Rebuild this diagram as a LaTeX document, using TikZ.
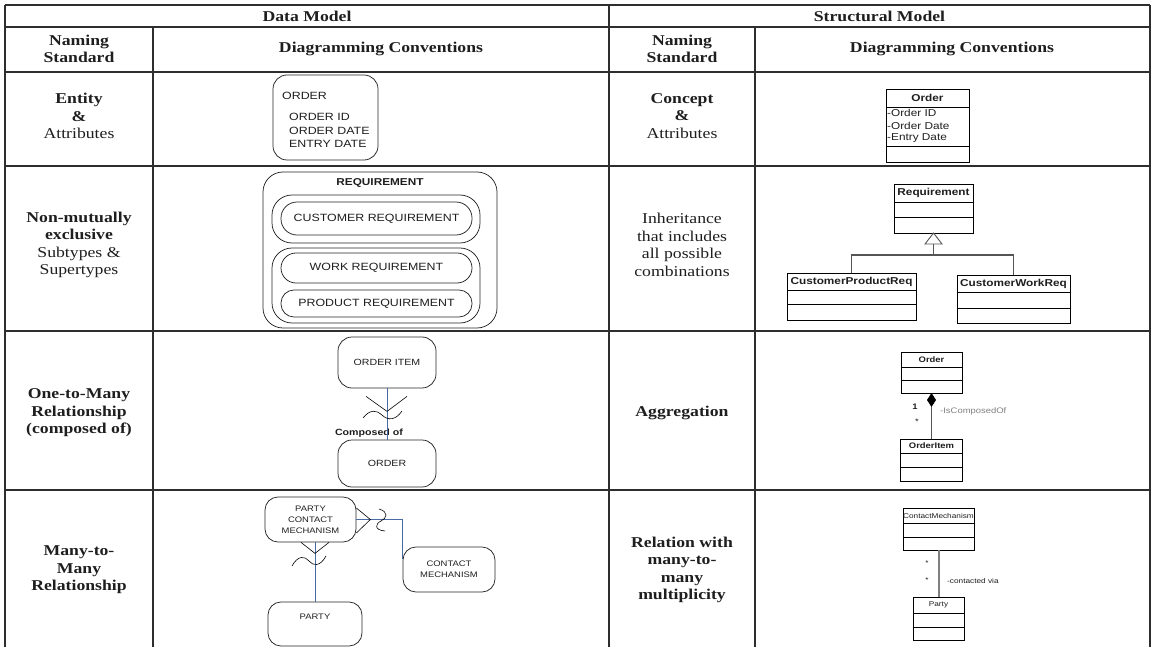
\documentclass[tikz,border=0pt]{standalone}
\usepackage{fontspec}
\setmainfont{Liberation Serif}[FakeStretch=1.18]
\newfontfamily\dsans{Liberation Sans}[FakeStretch=1.18]
\usetikzlibrary{calc}
\definecolor{tabline}{HTML}{2E2E2E}
\definecolor{erblue}{HTML}{4A6AA5}
\definecolor{umlgray}{HTML}{555555}
\definecolor{txt}{HTML}{1E1E1E}
\begin{document}
\begin{tikzpicture}[x=1pt,y=-1pt,
  tabrule/.style={draw=tabline, line width=2.6pt},
  tabtext/.style={align=center, text=txt, inner sep=0pt, font=\fontsize{15}{17.5}\selectfont},
  erbox/.style={draw=black!85, line width=0.75pt, rounded corners=14pt, inner sep=0pt, align=center, text=txt},
  ertext/.style={font=\dsans\fontsize{10.5}{13.5}\selectfont, text=txt, inner sep=0pt},
  ersmall/.style={font=\dsans\fontsize{8}{11}\selectfont, text=txt, inner sep=0pt, align=center},
  crow/.style={draw=black, line width=0.6pt},
  erline/.style={draw=erblue, line width=0.8pt},
  umlbox/.style={draw=black, line width=0.8pt, inner sep=0pt, outer sep=0pt, text=txt},
  umlbold/.style={font=\dsans\bfseries\fontsize{10}{12}\selectfont},
  umltext/.style={font=\dsans\fontsize{10}{12}\selectfont, text=txt, inner sep=0pt},
  umlline/.style={draw=umlgray, line width=1.2pt},
]
\useasboundingbox (0,0) rectangle (1154,647);
% ---------------- table ----------------
\draw[tabrule] (5,5) -- (1150,5);
\draw[tabrule] (5,27) -- (1150,27);
\draw[tabrule] (5,72) -- (1150,72);
\draw[tabrule] (5,166) -- (1150,166);
\draw[tabrule] (5,331) -- (1150,331);
\draw[tabrule] (5,490) -- (1150,490);
\draw[tabrule] (5,5) -- (5,647);
\draw[tabrule] (609,5) -- (609,647);
\draw[tabrule] (1150,5) -- (1150,647);
\draw[tabrule] (153,27) -- (153,647);
\draw[tabrule] (755,27) -- (755,647);

\node[tabtext] (hdm) at (307,16) {\textbf{Data Model}};
\node[tabtext] (hsm) at (879.5,16) {\textbf{Structural Model}};
\node[tabtext] (hn1) at (79,49) {\textbf{Naming}\\\textbf{Standard}};
\node[tabtext] (hd1) at (381,49) {\textbf{Diagramming Conventions}};
\node[tabtext] (hn2) at (682,49) {\textbf{Naming}\\\textbf{Standard}};
\node[tabtext] (hd2) at (952,49) {\textbf{Diagramming Conventions}};

\node[tabtext] (n1) at (79,116) {\textbf{Entity}\\\textbf{\&}\\Attributes};
\node[tabtext] (s1) at (682,116) {\textbf{Concept}\\\textbf{\&}\\Attributes};
\node[tabtext] (n2) at (79,245) {\textbf{Non-mutually}\\\textbf{exclusive}\\Subtypes \&\\Supertypes};
\node[tabtext] (s2) at (682,245) {Inheritance\\that includes\\all possible\\combinations};
\node[tabtext] (n3) at (79,413) {\textbf{One-to-Many}\\\textbf{Relationship}\\\textbf{(composed of)}};
\node[tabtext] (s3) at (682,413) {\textbf{Aggregation}};
\node[tabtext] (n4) at (79,570) {\textbf{Many-to-}\\\textbf{Many}\\\textbf{Relationship}};
\node[tabtext] (s4) at (682,570) {\textbf{Relation with}\\\textbf{many-to-}\\\textbf{many}\\\textbf{multiplicity}};

% ---------------- row 1 ----------------
\node[erbox, minimum width=105pt, minimum height=85pt] (ent) at (325.5,117.5) {};
\node[ertext, anchor=west] (entn) at (282,96) {ORDER};
\node[ertext, anchor=west] (enta) at (289,117) {ORDER ID};
\node[ertext, anchor=west] (entb) at (289,131) {ORDER DATE};
\node[ertext, anchor=west] (entc) at (289,144) {ENTRY DATE};

\node[umlbox, umlbold, minimum width=83pt, minimum height=18pt] (c1) at (927.5,98) {Order};
\node[umlbox, minimum width=83pt, minimum height=39pt, anchor=north] (c1a) at (c1.south) {};
\node[umlbox, minimum width=83pt, minimum height=16pt, anchor=north] (c1b) at (c1a.south) {};
\node[umltext, anchor=west] (c1t1) at (887,113) {-Order ID};
\node[umltext, anchor=west] (c1t2) at (887,125.5) {-Order Date};
\node[umltext, anchor=west] (c1t3) at (887,138) {-Entry Date};

% ---------------- row 2 ----------------
\node[erbox, rounded corners=20pt, minimum width=234pt, minimum height=156pt] (req) at (380,250) {};
\node[ertext, font=\dsans\bfseries\fontsize{10}{12}\selectfont] (reqn) at (380,183) {REQUIREMENT};
\node[erbox, rounded corners=20pt, minimum width=208pt, minimum height=48pt] (g1) at (376,219) {};
\node[erbox, ertext, rounded corners=16pt, minimum width=191pt, minimum height=33pt] (cr) at (376.5,218.5) {CUSTOMER REQUIREMENT};
\node[erbox, rounded corners=20pt, minimum width=208pt, minimum height=75pt] (g2) at (376,285.5) {};
\node[erbox, ertext, rounded corners=15pt, minimum width=191pt, minimum height=30pt] (wr) at (376.5,268) {WORK REQUIREMENT};
\node[erbox, ertext, rounded corners=13pt, minimum width=191pt, minimum height=27pt] (pr) at (376.5,303.5) {PRODUCT REQUIREMENT};

\node[umlbox, umlbold, minimum width=79pt, minimum height=18pt] (r) at (933.5,193) {Requirement};
\node[umlbox, minimum width=79pt, minimum height=15pt, anchor=north] (ra) at (r.south) {};
\node[umlbox, minimum width=79pt, minimum height=16pt, anchor=north] (rb) at (ra.south) {};
\node[umlbox, umlbold, minimum width=129pt, minimum height=17pt] (cpr) at (851.5,281.5) {CustomerProductReq};
\node[umlbox, minimum width=129pt, minimum height=14pt, anchor=north] (cpra) at (cpr.south) {};
\node[umlbox, minimum width=129pt, minimum height=16pt, anchor=north] (cprb) at (cpra.south) {};
\node[umlbox, umlbold, minimum width=113pt, minimum height=17pt] (cwr) at (1013.5,283.5) {CustomerWorkReq};
\node[umlbox, minimum width=113pt, minimum height=16pt, anchor=north] (cwra) at (cwr.south) {};
\node[umlbox, minimum width=113pt, minimum height=15pt, anchor=north] (cwrb) at (cwra.south) {};
\coordinate (tb) at ($(rb.south)+(0,11)$);
\coordinate (jn) at ($(tb)+(0,11)$);
\draw[umlline] (tb) -- (jn) -| (cpr.north);
\draw[umlline] (jn) -| (cwr.north);
\draw[draw=umlgray, line width=0.9pt, fill=white] (rb.south) -- ($(tb)+(8.5,0)$) -- ($(tb)+(-8.5,0)$) -- cycle;

% ---------------- row 3 ----------------
\node[erbox, ertext, font=\dsans\fontsize{9}{11}\selectfont, minimum width=98pt, minimum height=51pt] (oi) at (387,362.5) {ORDER ITEM};
\node[erbox, ertext, font=\dsans\fontsize{9}{11}\selectfont, minimum width=98pt, minimum height=47pt] (ord) at (387,463.5) {ORDER};
\node[font=\dsans\bfseries\fontsize{9}{11}\selectfont, text=txt, inner sep=0pt] (comp) at (369,433) {Composed of};
\draw[erline] (oi.south) -- (ord.north);
\draw[crow] ($(oi.south)+(-21,8)$) -- ($(oi.south)+(0,23)$) -- ($(oi.south)+(20,8)$);
\draw[crow] (363,418) .. controls (370,409) and (377,410) .. (382,415) .. controls (388,421) and (396,420) .. (402,411);

\node[umlbox, font=\dsans\bfseries\fontsize{8}{10}\selectfont, minimum width=61pt, minimum height=15pt] (o3) at (931.5,359.5) {Order};
\node[umlbox, minimum width=61pt, minimum height=13pt, anchor=north] (o3a) at (o3.south) {};
\node[umlbox, minimum width=61pt, minimum height=13pt, anchor=north] (o3b) at (o3a.south) {};
\node[umlbox, font=\dsans\bfseries\fontsize{8}{10}\selectfont, minimum width=62pt, minimum height=14pt] (oit) at (931.5,446) {OrderItem};
\node[umlbox, minimum width=62pt, minimum height=14pt, anchor=north] (oita) at (oit.south) {};
\node[umlbox, minimum width=62pt, minimum height=14pt, anchor=north] (oitb) at (oita.south) {};
\coordinate (dia) at ($(o3b.south)+(0,14)$);
\draw[umlline, line width=1pt] (dia) -- (oit.north);
\fill[black] (o3b.south) -- ++(4.5,7) -- ++(-4.5,7) -- ++(-4.5,-7) -- cycle;
\node[font=\dsans\bfseries\fontsize{8}{10}\selectfont, text=txt, inner sep=0pt] (m1) at (915,407) {1};
\node[font=\dsans\fontsize{8}{10}\selectfont, text=txt, inner sep=0pt] (m2) at (917,422) {*};
\node[font=\dsans\fontsize{8}{10}\selectfont, text=gray, inner sep=0pt, anchor=west] (lc) at (940,411) {-IsComposedOf};

% ---------------- row 4 ----------------
\node[erbox, ersmall, rounded corners=13pt, minimum width=91pt, minimum height=45pt] (pcm) at (310.5,519.5) {PARTY\\CONTACT\\MECHANISM};
\node[erbox, ersmall, rounded corners=13pt, minimum width=92pt, minimum height=45pt] (cm) at (449,569.5) {CONTACT\\MECHANISM};
\node[erbox, rounded corners=13pt, minimum width=94pt, minimum height=44pt] (pty) at (315,624) {};
\node[ersmall] (ptyl) at (315,617) {PARTY};
\coordinate (pl) at (pty.north |- pcm.south);
\draw[erline] (pl) -- (pty.north);
\draw[crow] ($(pl)+(-14,0)$) -- ($(pl)+(0,11)$) -- ($(pl)+(14,0)$);
\draw[crow] (292,566) .. controls (298,555) and (305,556) .. (309,561) .. controls (313,566) and (320,567) .. (326,556);
\draw[erline] (pcm.east) -| ($(cm.north west)+(0,12)$);
\draw[crow] ($(pcm.east)+(0,-11.5)$) -- ($(pcm.east)+(14,0)$) -- ($(pcm.east)+(0,13.5)$);
\draw[crow] (379,509) .. controls (389,512) and (387,518) .. (381,521) .. controls (375,524) and (374,530) .. (385,531);

\node[umlbox, font=\dsans\fontsize{7}{9}\selectfont, minimum width=71pt, minimum height=15pt] (cmu) at (938.5,515.5) {ContactMechanism};
\node[umlbox, minimum width=71pt, minimum height=14pt, anchor=north] (cmua) at (cmu.south) {};
\node[umlbox, minimum width=71pt, minimum height=13pt, anchor=north] (cmub) at (cmua.south) {};
\node[umlbox, font=\dsans\fontsize{7}{9}\selectfont, minimum width=51pt, minimum height=16pt] (pu) at (938.5,605) {Party};
\node[umlbox, minimum width=51pt, minimum height=14pt, anchor=north] (pua) at (pu.south) {};
\node[umlbox, minimum width=51pt, minimum height=13pt, anchor=north] (pub) at (pua.south) {};
\draw[draw=gray, line width=2pt] (cmub.south) -- (pu.north);
\node[font=\dsans\fontsize{7}{9}\selectfont, text=txt, inner sep=0pt] (m3) at (927,563) {*};
\node[font=\dsans\fontsize{7}{9}\selectfont, text=txt, inner sep=0pt] (m4) at (927,580) {*};
\node[font=\dsans\fontsize{7}{9}\selectfont, text=txt, inner sep=0pt, anchor=west] (lv) at (947,581) {-contacted via};
\end{tikzpicture}
\end{document}
